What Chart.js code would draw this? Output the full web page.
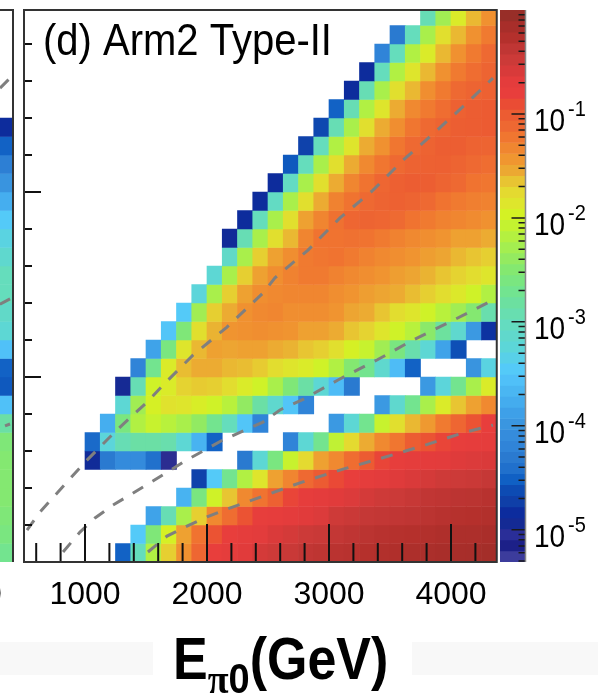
<!DOCTYPE html>
<html>
<head>
<meta charset="utf-8">
<title>Arm2 Type-II</title>
<script src="https://cdn.jsdelivr.net/npm/chart.js@4"></script>
<style>
  html, body { margin: 0; padding: 0; background: #fff; }
  #page { position: relative; width: 598px; height: 693px; overflow: hidden; }
  #page canvas { position: absolute; left: 0; top: 0; filter: blur(0.5px); }
  .band { position: absolute; top: 642px; height: 33px; background: #f8f8f8; }
  #xlabel {
    position: absolute; left: 173px; top: 625px; white-space: nowrap;
    font: bold 52px "Liberation Sans", Arial, sans-serif; color: #000;
    transform: scaleY(1.13); transform-origin: left top; line-height: 60px;
  }
  #xlabel sub { font-size: 38px; line-height: 0; vertical-align: baseline; position: relative; top: 12px; margin-left: 0; margin-right: 0; }
  #xlabel sub i { font-family: "Liberation Serif", serif; font-style: normal; }
  #cutlabel {
    position: absolute; left: -16px; top: 574px;
    font: 32px "Liberation Sans", Arial, sans-serif; color: #000; line-height: 38px;
  }
</style>
</head>
<body>
<div id="page">
  <div class="band" style="left:0;width:153px"></div>
  <div class="band" style="left:412px;width:186px"></div>
  <canvas id="strip" width="598" height="693"></canvas>
  <canvas id="main" width="598" height="693"></canvas>
  <canvas id="bar" width="598" height="693"></canvas>
  <div id="cutlabel">0</div>
  <div id="xlabel">E<sub><i>&pi;</i>0</sub>(GeV)</div>
</div>
<script>
// bin layout of the histogram
var xStart = 500, xBin = 125, xEnd = 4375;
var yBin = 0.05, yEnd = 1.492;
var zLogMin = -5.31, zLogMax = 0;

var xLabelTicks = [1000, 2000, 3000, 4000];
var xMinorTicks = [600, 800, 1200, 1400, 1600, 1800, 2200, 2400, 2600, 2800, 3200, 3400, 3600, 3800, 4200];
var yMajorTicks = [0.5, 1.0];
var yMinorTicks = [0.1, 0.2, 0.3, 0.4, 0.6, 0.7, 0.8, 0.9, 1.1, 1.2, 1.3, 1.4];
var barMajorTicks = [-1, -2, -3, -4, -5];
var barMinorSteps = [2, 3, 4, 5, 6, 7, 8, 9];

function gap(n) { return new Array(n).fill(null); }

// log10(z) per bin, one list per pT row, top row first
var row29 = [...gap(26), -2.95, -2.3, -1.9, -1.6, -1.4];
var row28 = [...gap(24), -4.3, -3.0, -2.25, -1.8, -1.6, -1.4, -1.25];
var row27 = [...gap(23), -4.2, -3.0, -2.2, -1.9, -1.6, -1.4, -1.25, -1.12];
var row26 = [...gap(22), -4.85, -3.0, -2.2, -1.85, -1.6, -1.4, -1.25, -1.15, -1.08];
var row25 = [...gap(21), -4.85, -2.95, -2.25, -1.8, -1.6, -1.38, -1.25, -1.12, -1.08, -1.05];
var row24 = [...gap(20), -4.5, -2.95, -2.2, -1.85, -1.55, -1.35, -1.25, -1.15, -1.05, -1.02, -1.0];
var row23 = [...gap(19), -4.65, -2.95, -2.25, -1.8, -1.55, -1.38, -1.22, -1.12, -1.08, -1.03, -1.02, -1.0];
var row22 = [...gap(18), -4.7, -3.0, -2.2, -1.85, -1.55, -1.4, -1.22, -1.12, -1.07, -1.03, -1.03, -1.07, -1.08];
var row21 = [...gap(17), -4.55, -3.0, -2.25, -1.8, -1.55, -1.35, -1.22, -1.12, -1.07, -1.05, -1.04, -1.08, -1.12, -1.15];
var row20 = [...gap(16), -4.85, -3.05, -2.25, -1.8, -1.55, -1.33, -1.2, -1.1, -1.04, -1.02, -1.03, -1.08, -1.12, -1.2, -1.22];
var row19 = [...gap(15), -4.85, -3.05, -2.25, -1.8, -1.55, -1.3, -1.2, -1.12, -1.08, -1.05, -1.08, -1.12, -1.2, -1.25, -1.28, -1.3];
var row18 = [...gap(14), -4.85, -3.0, -2.25, -1.8, -1.5, -1.32, -1.18, -1.1, -1.08, -1.1, -1.13, -1.2, -1.25, -1.3, -1.33, -1.36, -1.4];
var row17 = [...gap(13), -4.9, -2.95, -2.25, -1.8, -1.6, -1.32, -1.2, -1.2, -1.18, -1.2, -1.25, -1.3, -1.35, -1.38, -1.42, -1.5, -1.5, -1.55];
var row16 = [...gap(13), -3.1, -2.25, -1.7, -1.5, -1.38, -1.25, -1.22, -1.2, -1.25, -1.3, -1.35, -1.38, -1.42, -1.48, -1.52, -1.6, -1.65, -1.7];
var row15 = [...gap(12), -3.2, -2.25, -1.7, -1.5, -1.38, -1.3, -1.25, -1.25, -1.3, -1.35, -1.38, -1.42, -1.48, -1.52, -1.58, -1.65, -1.72, -1.78, -1.85];
var row14 = [...gap(11), -3.25, -2.25, -1.7, -1.5, -1.38, -1.35, -1.33, -1.33, -1.33, -1.38, -1.42, -1.48, -1.52, -1.55, -1.62, -1.7, -1.78, -1.88, -2.0, -2.2];
var row13 = [...gap(10), -3.45, -2.3, -1.7, -1.55, -1.4, -1.35, -1.33, -1.38, -1.38, -1.38, -1.42, -1.52, -1.55, -1.65, -1.78, -1.85, -2.0, -2.15, -2.3, -2.5, -2.9];
var row12 = [...gap(9), -3.5, -2.55, -1.8, -1.58, -1.42, -1.4, -1.38, -1.4, -1.42, -1.5, -1.5, -1.55, -1.65, -1.72, -1.85, -2.0, -2.15, -2.45, -2.8, -3.15, -3.95, -4.8];
var row11 = [...gap(8), -3.85, -2.6, -1.85, -1.6, -1.5, -1.52, -1.5, -1.5, -1.55, -1.58, -1.65, -1.7, -1.8, -1.95, -2.05, -2.3, -2.6, -2.9, -3.2, -3.85, -4.6, ...gap(2)];
var row10 = [...gap(7), -4.2, -2.7, -1.9, -1.62, -1.55, -1.55, -1.6, -1.62, -1.68, -1.78, -1.85, -1.9, -2.0, -2.2, -2.5, -2.7, -3.15, -3.6, -4.5, ...gap(3), -4.0, -3.3];
var row09 = [...gap(6), -4.95, -2.95, -2.0, -1.9, -1.72, -1.68, -1.7, -1.78, -1.9, -2.0, -2.25, -2.55, -2.85, -3.2, -3.6, -4.3, ...gap(4), -3.95, -3.25, -2.7, -2.25, -1.9];
var row08 = [...gap(6), -3.2, -2.3, -1.95, -1.82, -1.85, -1.92, -2.0, -2.15, -2.4, -2.85, -3.15, -3.5, -4.2, ...gap(4), -3.95, -3.15, -2.7, -2.25, -1.9, -1.65, -1.5, -1.35];
var row07 = [...gap(5), -3.75, -2.6, -2.2, -2.05, -2.15, -2.25, -2.4, -2.7, -3.0, -3.5, -4.2, ...gap(4), -3.95, -3.2, -2.7, -2.05, -1.8, -1.6, -1.45, -1.25, -1.1, -0.95, -0.8];
var row06 = [...gap(4), -4.45, -3.25, -2.95, -2.85, -2.85, -2.9, -3.2, -3.7, -4.5, ...gap(4), -4.2, -3.2, -2.7, -2.1, -1.75, -1.55, -1.35, -1.22, -1.02, -0.95, -0.85, -0.78, -0.75, -0.72];
var row05 = [...gap(4), -4.9, -4.3, -4.1, -4.1, -4.4, -5.2, ...gap(4), -4.3, -3.2, -2.6, -2.05, -1.75, -1.5, -1.35, -1.15, -1.0, -0.85, -0.78, -0.73, -0.7, -0.68, -0.65, -0.62, -0.6];
var row04 = [...gap(11), -4.7, -3.45, -2.7, -2.2, -1.85, -1.5, -1.32, -1.12, -1.0, -0.88, -0.8, -0.72, -0.68, -0.65, -0.6, -0.55, -0.5, -0.48, -0.46, -0.42];
var row03 = [...gap(10), -3.7, -2.6, -2.0, -1.65, -1.35, -1.2, -1.05, -0.85, -0.75, -0.7, -0.66, -0.62, -0.55, -0.5, -0.47, -0.43, -0.38, -0.36, -0.34, -0.33, -0.3];
var row02 = [...gap(8), -3.85, -2.95, -2.25, -1.7, -1.35, -1.15, -0.95, -0.78, -0.75, -0.7, -0.66, -0.62, -0.5, -0.46, -0.42, -0.4, -0.38, -0.36, -0.33, -0.3, -0.28, -0.27, -0.25];
var row01 = [...gap(7), -3.45, -2.55, -1.95, -1.5, -1.2, -0.95, -0.8, -0.72, -0.68, -0.6, -0.55, -0.48, -0.45, -0.4, -0.36, -0.33, -0.3, -0.28, -0.27, -0.25, -0.22, -0.2, -0.2, -0.18];
var row00 = [...gap(6), -4.5, -3.0, -2.2, -1.7, -1.4, -1.1, -0.8, -0.72, -0.66, -0.55, -0.5, -0.45, -0.38, -0.35, -0.32, -0.3, -0.27, -0.25, -0.23, -0.2, -0.19, -0.17, -0.16, -0.15, -0.13];

var zRows = [row00, row01, row02, row03, row04, row05, row06, row07, row08, row09, row10, row11, row12, row13, row14,
             row15, row16, row17, row18, row19, row20, row21, row22, row23, row24, row25, row26, row27, row28, row29];

// neighbouring panel (c), only its last column shows, bottom row first
var stripRows = [-2.7, -2.6, -2.55, -2.5, -2.5, -2.5, -2.55, -2.85, -3.55, -4.55, -4.5, -3.55, -3.2, -3.1, -3.0, -3.0,
                 -3.15, -3.3, -3.45, -3.75, -4.0, -4.25, -4.5, -4.85];

// dashed pseudorapidity curves {E, pT}
var curveEnergy1 = [525, 631, 770, 1000, 1262, 1508, 1639, 1885, 2164, 2459, 2557, 2828, 3090, 3361, 3607, 3869, 4139, 4344];
var curvePt1 = [0.086, 0.135, 0.186, 0.27, 0.357, 0.432, 0.478, 0.559, 0.635, 0.727, 0.768, 0.843, 0.93, 1.005, 1.086, 1.162, 1.243, 1.308];
var curveEnergy2 = [820, 959, 1082, 1230, 1533, 1836, 2131, 2459, 2598, 2779, 3074, 3393, 3689, 3992, 4344];
var curvePt2 = [0.027, 0.081, 0.119, 0.154, 0.214, 0.276, 0.33, 0.378, 0.411, 0.438, 0.492, 0.546, 0.6, 0.649, 0.708];
var curveEnergy3 = [1516, 1672, 1836, 2000, 2164, 2459, 2762, 3115, 3434, 3770, 4098, 4344];
var curvePt3 = [0.027, 0.07, 0.097, 0.122, 0.143, 0.178, 0.214, 0.251, 0.281, 0.314, 0.349, 0.37];

// palette of the colour bar, lowest band first
var paletteColors = [
  '#3c3c9c', '#1c2088', '#2a2e98', '#142a94', '#0c2c9e', '#0f3fa8', '#0d4bb3', '#1060c4', '#2070cc', '#2a7ad0',
  '#3084d8', '#358cdc', '#3a96e0', '#3ea0e8', '#44acee', '#4ab6f2', '#50c0f8', '#54caf8', '#58d0e8', '#5cd6d8',
  '#60d8cc', '#64dcc0', '#68deb0', '#6ce0a0', '#72e490', '#7ae680', '#84e870', '#94ea60', '#a4ee50', '#b4f040',
  '#c4f230', '#d4f224', '#dee62c', '#e4da30', '#e8c432', '#eca832', '#f09630', '#f08630', '#f07630', '#ee6832',
  '#ec5c32', '#ea4c34', '#e83e3c', '#e43c3c', '#d83a3a', '#cc3a38', '#c03634', '#b4302c', '#a82e2a', '#982e28'
];

function hexToRgb(hex) {
  return [parseInt(hex.substr(1, 2), 16), parseInt(hex.substr(3, 2), 16), parseInt(hex.substr(5, 2), 16)];
}

// smooth lookup, the cells look less banded than the bar
function colorFor(logZ) {
  var t = (logZ - zLogMin) / (zLogMax - zLogMin) * paletteColors.length - 0.5;
  t = Math.max(0, Math.min(paletteColors.length - 1.001, t));
  var i = Math.floor(t), f = t - i;
  var a = hexToRgb(paletteColors[i]), b = hexToRgb(paletteColors[i + 1]);
  return 'rgb(' + a.map(function(v, k) { return Math.round(v + (b[k] - v) * f); }).join(',') + ')';
}

function curveData(energy, pt) {
  return energy.map(function(e, i) { return { x: e, y: pt[i] }; });
}

function dashedCurve(points) {
  return {
    type: 'line', data: points, order: 0, borderColor: '#7f7f7f', borderWidth: 3,
    borderDash: [12, 11], pointRadius: 0, tension: 0, fill: false
  };
}

// stretched text, the reference picture is a bit taller than wide
function drawText(ctx, text, x, y, size, weight) {
  ctx.save();
  ctx.translate(x, y);
  ctx.scale(1, 1.13);
  ctx.fillStyle = '#000';
  ctx.textBaseline = 'alphabetic';
  ctx.font = (weight || 'normal') + ' ' + size + 'px "Liberation Sans", Arial, sans-serif';
  ctx.fillText(text, 0, 0);
  ctx.restore();
}

Chart.defaults.animation = false;
Chart.defaults.responsive = false;
Chart.defaults.plugins.legend.display = false;
Chart.defaults.plugins.tooltip.enabled = false;

var cells = [], cellColors = [];
zRows.forEach(function(row, r) {
  row.forEach(function(z, c) {
    if (z === null) return;
    cells.push({ x: xStart + xBin * (c + 0.5), y: [yBin * r, yBin * (r + 1)] });
    cellColors.push(colorFor(z));
  });
});

var mainDecor = {
  id: 'mainDecor',
  afterDatasetsDraw: function(chart) {
    var ctx = chart.ctx, a = chart.chartArea, x = chart.scales.x, y = chart.scales.y;
    ctx.save();
    ctx.strokeStyle = '#111';
    ctx.lineWidth = 2;
    ctx.beginPath();
    xLabelTicks.forEach(function(v) {
      ctx.moveTo(x.getPixelForValue(v), a.bottom);
      ctx.lineTo(x.getPixelForValue(v), a.bottom - 38);
    });
    xMinorTicks.forEach(function(v) {
      ctx.moveTo(x.getPixelForValue(v), a.bottom);
      ctx.lineTo(x.getPixelForValue(v), a.bottom - 19);
    });
    yMajorTicks.forEach(function(v) {
      ctx.moveTo(a.left, y.getPixelForValue(v));
      ctx.lineTo(a.left + 17, y.getPixelForValue(v));
    });
    yMinorTicks.forEach(function(v) {
      ctx.moveTo(a.left, y.getPixelForValue(v));
      ctx.lineTo(a.left + 8, y.getPixelForValue(v));
    });
    ctx.stroke();
    ctx.strokeStyle = '#333';
    ctx.strokeRect(a.left, a.top, a.right - a.left, a.bottom - a.top);
    ctx.restore();
    drawText(ctx, '(d) Arm2 Type-II', 43, 55, 40);
  }
};

new Chart(document.getElementById('main'), {
  type: 'bar',
  data: {
    datasets: [
      { data: cells, backgroundColor: cellColors, barPercentage: 1, categoryPercentage: 1, order: 1 },
      dashedCurve(curveData(curveEnergy1, curvePt1)),
      dashedCurve(curveData(curveEnergy2, curvePt2)),
      dashedCurve(curveData(curveEnergy3, curvePt3))
    ]
  },
  options: {
    layout: { padding: { left: 24, right: 101.25, top: 10, bottom: 61 } },
    scales: {
      x: {
        type: 'linear', offset: false, min: xStart, max: xEnd,
        grid: { display: false }, border: { display: false },
        afterBuildTicks: function(scale) {
          scale.ticks = xLabelTicks.map(function(v) { return { value: v }; });
        },
        afterFit: function(scale) { scale.height = 70; },
        ticks: {
          autoSkip: false, maxRotation: 0, padding: 6, color: '#000',
          font: { family: '"Liberation Sans", Arial, sans-serif', size: 32 },
          callback: function(v) { return String(v); }
        }
      },
      y: { type: 'linear', display: false, min: 0, max: yEnd }
    },
    plugins: { mainDecor: {} }
  },
  plugins: [mainDecor]
});

var barBands = paletteColors.map(function(c, i) {
  var step = (zLogMax - zLogMin) / paletteColors.length;
  return { x: 0.5, y: [Math.pow(10, zLogMin + step * i), Math.pow(10, zLogMin + step * (i + 1))] };
});

var barDecor = {
  id: 'barDecor',
  afterDatasetsDraw: function(chart) {
    var ctx = chart.ctx, a = chart.chartArea, y = chart.scales.y;
    ctx.save();
    ctx.strokeStyle = '#1a1a1a';
    ctx.lineWidth = 1.5;
    ctx.beginPath();
    barMajorTicks.forEach(function(k) {
      var py = y.getPixelForValue(Math.pow(10, k));
      ctx.moveTo(a.right, py);
      ctx.lineTo(a.right - 14, py);
    });
    [-6, -5, -4, -3, -2, -1].forEach(function(k) {
      barMinorSteps.forEach(function(m) {
        var v = m * Math.pow(10, k);
        if (v < y.min) return;
        var py = y.getPixelForValue(v);
        ctx.moveTo(a.right, py);
        ctx.lineTo(a.right - 7, py);
      });
    });
    ctx.stroke();
    ctx.strokeStyle = '#888';
    ctx.beginPath();
    ctx.moveTo(a.right, a.top);
    ctx.lineTo(a.right, a.bottom);
    ctx.stroke();
    ctx.restore();
    barMajorTicks.forEach(function(k) {
      var py = y.getPixelForValue(Math.pow(10, k));
      drawText(ctx, '10', 534, py + 17, 28);
      drawText(ctx, String(k), 568, py + 2, 20);
    });
  }
};

new Chart(document.getElementById('bar'), {
  type: 'bar',
  data: {
    datasets: [{ data: barBands, backgroundColor: paletteColors, barThickness: 60 }]
  },
  options: {
    layout: { padding: { left: 500, right: 72.5, top: 10, bottom: 131 } },
    scales: {
      x: { type: 'linear', offset: false, display: false, min: 0, max: 1 },
      y: { type: 'logarithmic', display: false, min: Math.pow(10, zLogMin), max: Math.pow(10, zLogMax) }
    }
  },
  plugins: [barDecor]
});

var stripCells = stripRows.map(function(z, r) {
  return { x: 4312, y: [yBin * r, yBin * (r + 1)] };
});

var stripFrame = {
  id: 'stripFrame',
  afterDatasetsDraw: function(chart) {
    var ctx = chart.ctx, a = chart.chartArea;
    ctx.save();
    ctx.strokeStyle = '#333';
    ctx.lineWidth = 2;
    ctx.beginPath();
    ctx.moveTo(a.left, a.top);
    ctx.lineTo(a.right, a.top);
    ctx.lineTo(a.right, a.bottom);
    ctx.stroke();
    ctx.restore();
  }
};

new Chart(document.getElementById('strip'), {
  type: 'bar',
  data: {
    datasets: [
      { data: stripCells, backgroundColor: stripRows.map(colorFor), barThickness: 40, order: 1 },
      dashedCurve([{ x: 4270, y: 1.281 }, { x: 4352, y: 1.308 }]),
      dashedCurve([{ x: 4270, y: 0.697 }, { x: 4352, y: 0.711 }]),
      dashedCurve([{ x: 4311, y: 0.368 }, { x: 4352, y: 0.373 }])
    ]
  },
  options: {
    layout: { padding: { left: 0, right: 585, top: 10, bottom: 131 } },
    scales: {
      x: { type: 'linear', offset: false, display: false, min: 4270, max: 4376 },
      y: { type: 'linear', display: false, min: 0, max: yEnd }
    }
  },
  plugins: [stripFrame]
});
</script>
</body>
</html>
